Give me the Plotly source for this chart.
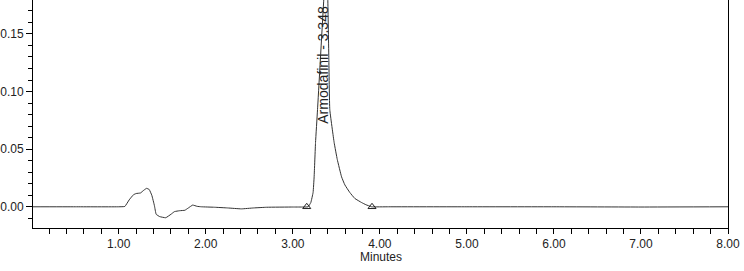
import plotly.graph_objects as go

# Chromatogram trace (minutes, AU)
times = [0.0, 0.50, 1.00, 1.07, 1.12, 1.17, 1.20, 1.25, 1.29, 1.32, 1.35, 1.38, 1.41, 1.43,
         1.47, 1.54, 1.60, 1.64, 1.70, 1.76, 1.80, 1.85, 1.90, 1.95, 2.10, 2.25, 2.41, 2.55,
         2.70, 3.00, 3.10, 3.176, 3.207, 3.233, 3.245, 3.261, 3.284, 3.356, 3.385, 3.402,
         3.414, 3.425, 3.475, 3.511, 3.56, 3.598, 3.655, 3.713, 3.79, 3.84, 3.905, 4.10,
         5.00, 6.00, 7.00, 8.00]
signal = [0.0, 0.0, 0.0, 0.0003, 0.006, 0.0105, 0.0115, 0.0120, 0.0145, 0.0160, 0.0150,
          0.0100, 0.0010, -0.0065, -0.0085, -0.0095, -0.0065, -0.0042, -0.0034, -0.0030,
          -0.0010, 0.0015, 0.0004, 0.0, -0.0004, -0.0010, -0.0018, -0.0010, -0.0004, -0.0002,
          -0.0002, 0.0, 0.0037, 0.0124, 0.026, 0.0557, 0.0843, 0.18, 0.215, 0.18,
          0.128, 0.0843, 0.0557, 0.041, 0.026, 0.019, 0.0124, 0.0072, 0.0037, 0.0018, 0.0, 0.0,
          0.0, 0.0, -0.0002, 0.0]

# Peak integration start / end markers
marker_times = [3.16, 3.91]
marker_values = [0.0, 0.0]

peak_name = "Armodafinil"
peak_rt = 3.348

x_ticks = [1, 2, 3, 4, 5, 6, 7, 8]
y_ticks = [0.00, 0.05, 0.10, 0.15]
x_title = "Minutes"

fig = go.Figure()
fig.add_trace(go.Scatter(
    x=times, y=signal, mode="lines",
    line=dict(color="#333333", width=1, shape="spline", smoothing=0.3),
    hoverinfo="skip", showlegend=False,
))
fig.add_trace(go.Scatter(
    x=marker_times, y=marker_values, mode="markers",
    marker=dict(symbol="triangle-up-open", size=7, color="#222222", line=dict(width=1)),
    showlegend=False,
))

fig.add_annotation(
    x=peak_rt, y=0.1233, text=f"{peak_name} - {peak_rt:.3f}",
    textangle=-90, showarrow=False, xanchor="center", yanchor="middle",
    font=dict(family="Liberation Sans, Arial", size=14, color="#222222"),
)
fig.add_annotation(
    x=0.5, y=-0.125, xref="paper", yref="paper", text=x_title,
    showarrow=False, xanchor="center", yanchor="middle",
    font=dict(family="Liberation Sans, Arial", size=12, color="#222222"),
)

fig.update_layout(
    width=744, height=271,
    margin=dict(l=33, r=16, t=0, b=43),
    paper_bgcolor="white", plot_bgcolor="white",
    font=dict(family="Liberation Sans, Arial", size=12, color="#222222"),
    xaxis=dict(
        range=[0.015, 8.0], tickvals=x_ticks, tickformat=".2f",
        showline=True, linecolor="black", linewidth=1, showgrid=False, zeroline=False,
        ticks="outside", ticklen=5, tickcolor="black",
        minor=dict(dtick=0.2, tick0=0, ticks="outside", ticklen=5, tickcolor="black", showgrid=False),
    ),
    yaxis=dict(
        range=[-0.0184, 0.1794], tickvals=y_ticks, tickformat=".2f",
        showline=True, linecolor="black", linewidth=1, mirror=True, showgrid=False, zeroline=False,
        ticks="outside", ticklen=6, tickcolor="black",
        minor=dict(dtick=0.01, tick0=0, ticks="outside", ticklen=4, tickcolor="black", showgrid=False),
    ),
)

fig.write_html("out.html")
